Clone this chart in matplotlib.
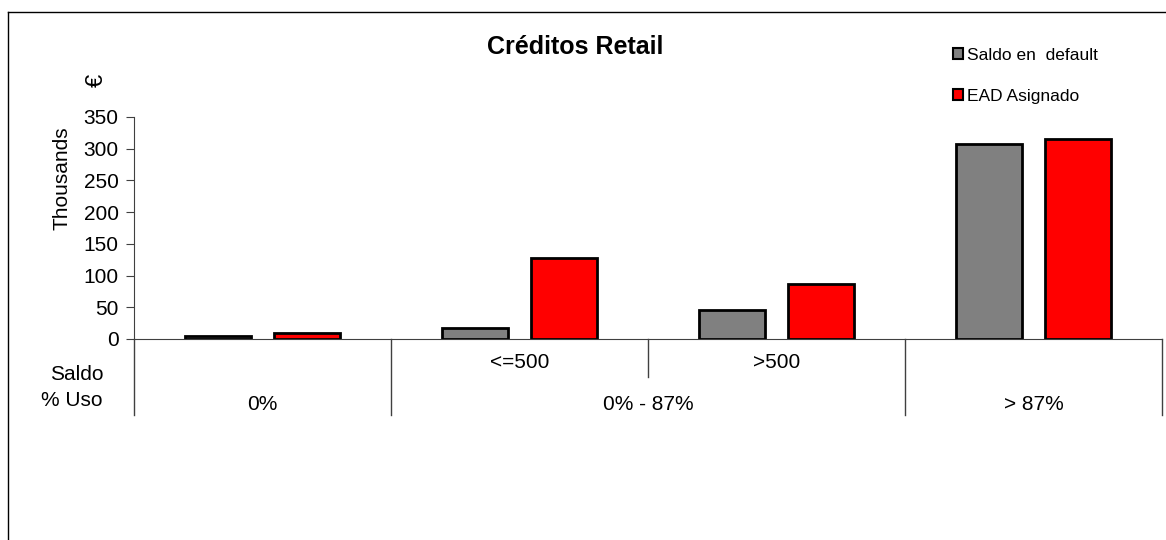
import matplotlib.pyplot as plt
from matplotlib.patches import Patch
from matplotlib.lines import Line2D

# data (thousands of EUR)
saldo_labels = ["", "<=500", ">500", ""]
uso_labels = ["0%", "0% - 87%", "> 87%"]
saldo_default = [5, 18, 46, 307]
ead_asignado = [10, 127, 87, 315]

plt.rcParams['font.family'] = ['Liberation Sans', 'DejaVu Sans']

fig = plt.figure(figsize=(11.66, 5.4), dpi=100)
ax = fig.add_axes([134 / 1166, (540 - 339) / 540, (1162 - 134) / 1166, 222 / 540])

x = list(range(len(saldo_default)))
w = 0.26
off = 0.173
ax.bar([i - off for i in x], saldo_default, w, color='#808080', edgecolor='black', linewidth=2,
       label='Saldo en  default')
ax.bar([i + off for i in x], ead_asignado, w, color='#ff0000', edgecolor='black', linewidth=2,
       label='EAD Asignado')

ax.set_xlim(-0.5, 3.5)
ax.set_ylim(0, 350)
ax.set_yticks(range(0, 351, 50))
ax.tick_params(axis='y', labelsize=15, length=6, color='#404040', pad=5)
ax.set_xticks([])
for s in ['top', 'right']:
    ax.spines[s].set_visible(False)
ax.spines['left'].set_color('#404040')
ax.spines['bottom'].set_color('#404040')

# two-level category axis
tr = ax.get_xaxis_transform()
for b, depth in zip([-0.5, 0.5, 1.5, 2.5, 3.5], [-0.342, -0.342, -0.171, -0.342, -0.342]):
    ax.add_line(Line2D([b, b], [0, depth], transform=tr, color='#404040', lw=1, clip_on=False))
for i, lab in enumerate(saldo_labels):
    if lab:
        ax.text(i, -0.104, lab, transform=tr, ha='center', va='center', fontsize=15)
for pos, lab in zip([0, 1.5, 3], uso_labels):
    ax.text(pos, -0.295, lab, transform=tr, ha='center', va='center', fontsize=15)
fig.text(77 / 1166, 1 - 375 / 540, "Saldo", ha='center', va='center', fontsize=15)
fig.text(72 / 1166, 1 - 400 / 540, "% Uso", ha='center', va='center', fontsize=15)

fig.text(62 / 1166, 1 - 178 / 540, "Thousands", rotation=90, ha='center', va='center', fontsize=15)
fig.text(97 / 1166, 1 - 80 / 540, "€", rotation=90, ha='center', va='center', fontsize=17)

fig.text(575 / 1166, 1 - 47 / 540, "Créditos Retail", ha='center', va='center',
         fontsize=18, fontweight='bold')

handles = [Patch(facecolor='#808080', edgecolor='black', linewidth=1.5, label='Saldo en  default'),
           Patch(facecolor='#ff0000', edgecolor='black', linewidth=1.5, label='EAD Asignado')]
fig.legend(handles=handles, loc='upper left', bbox_to_anchor=(946 / 1166, 1 - 41 / 540),
           frameon=False, fontsize=12.5, handlelength=0.6, handleheight=0.6,
           handletextpad=0.2, labelspacing=1.5, borderaxespad=0)

# outer chart frame (partially cropped)
fig.add_artist(Line2D([8 / 1166, 8 / 1166], [0, 1 - 12 / 540], transform=fig.transFigure,
                      color='black', lw=1))
fig.add_artist(Line2D([8 / 1166, 1], [1 - 12 / 540, 1 - 12 / 540], transform=fig.transFigure,
                      color='black', lw=1))

fig.savefig("out.png", dpi=100)
